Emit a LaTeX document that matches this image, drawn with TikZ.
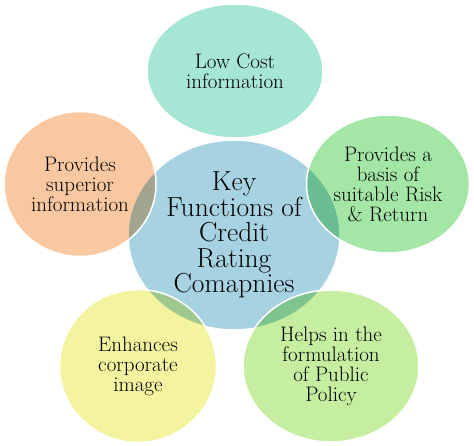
\documentclass[tikz,border=0pt]{standalone}
\usepackage{tikz}
\usetikzlibrary{shapes.geometric}

\definecolor{hubblue}{HTML}{A6D2E1}
\definecolor{lowcost}{HTML}{A6E6D4}
\definecolor{peach}{HTML}{FAC8A0}
\definecolor{riskgreen}{HTML}{A4E6A6}
\definecolor{imageyellow}{HTML}{F4F4A0}
\definecolor{policygreen}{HTML}{C6EEA0}

\begin{document}
\begin{tikzpicture}[%
  x=1pt,
  y=-1pt,
  bubble/.style={
    ellipse,
    inner sep=0pt,
    align=center,
    font=\fontsize{21}{20}\selectfont},
  hub/.style={
    ellipse,
    inner sep=0pt,
    align=center,
    fill=hubblue,
    draw=white,
    line width=1.5pt,
    minimum width=212pt,
    minimum height=190pt,
    font=\fontsize{27.5}{25.5}\selectfont},
  rim/.style={
    draw=white,
    line width=1.5pt}
  ]
  \useasboundingbox (0,0) rectangle (474,445);
  %% Hub
  \node[hub] (KF) at (234,235) {Key\\Functions of\\Credit\\Rating\\Comapnies};
  %% Bubbles
  \begin{scope}[blend mode=multiply]
    \node[bubble, fill=lowcost, minimum width=176pt, minimum height=134pt]
      (LC) at (235,71) {Low Cost\\information};
    \node[bubble, fill=peach, minimum width=152pt, minimum height=145pt]
      (PS) at (80,184) {Provides\\superior\\information};
    \node[bubble, fill=riskgreen, minimum width=163pt, minimum height=138pt]
      (RR) at (388,184) {Provides a\\basis of\\suitable Risk\\\& Return};
    \node[bubble, fill=imageyellow, minimum width=157pt, minimum height=153pt]
      (CI) at (138,366) {Enhances\\corporate\\image};
    \node[bubble, fill=policygreen, minimum width=176pt, minimum height=152pt]
      (PP) at (331,366) {Helps in the\\formulation\\of Public\\Policy};
  \end{scope}
  %% Rims
  \foreach \n/\rx/\ry in {LC/88/67, PS/76/72.5, RR/81.5/69, CI/78.5/76.5, PP/88/76}
    \draw[rim] (\n.center) ellipse [x radius=\rx pt, y radius=\ry pt];
\end{tikzpicture}
\end{document}
